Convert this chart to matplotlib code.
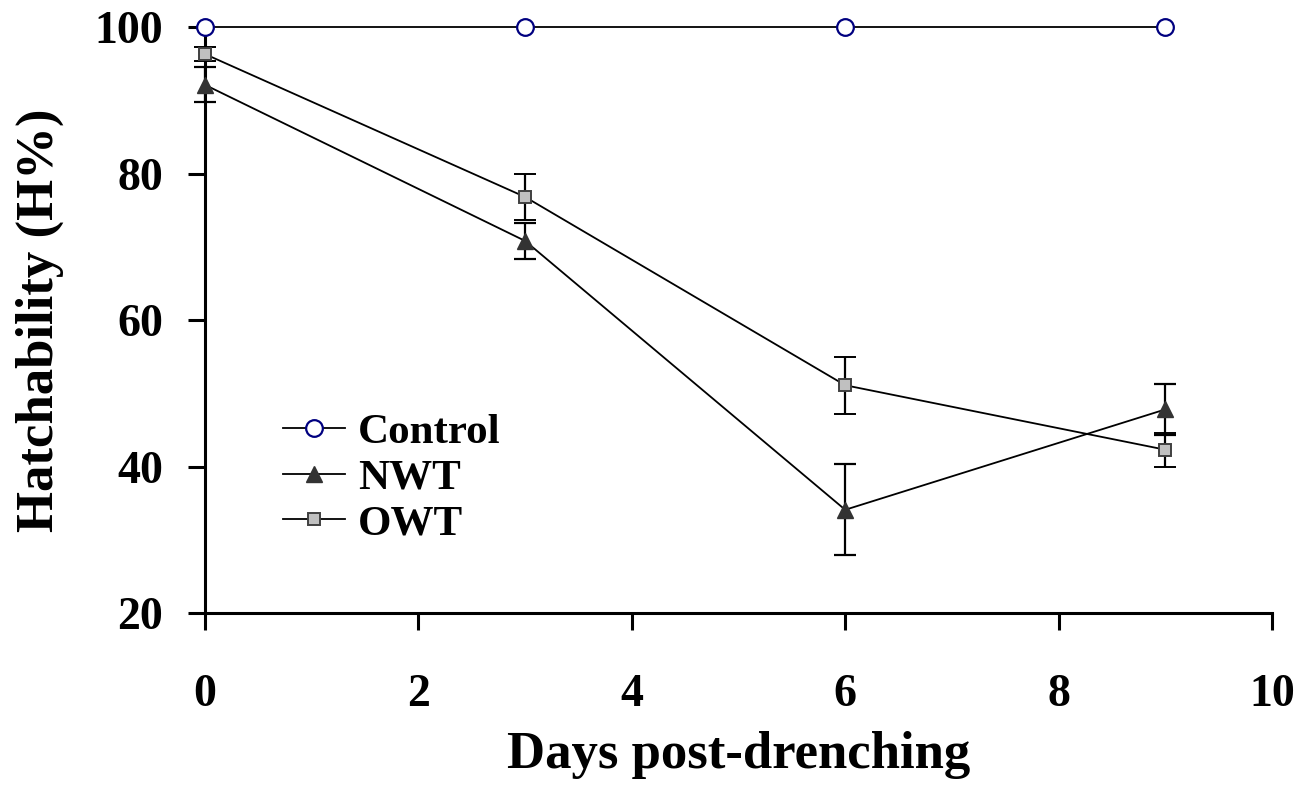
import matplotlib
matplotlib.use("Agg")
import matplotlib.pyplot as plt

# data
days = [0, 3, 6, 9]
control = [100, 100, 100, 100]
nwt = [92.1, 70.8, 34.1, 47.8]
nwt_err = [2.4, 2.5, 6.2, 3.5]
owt = [96.3, 76.8, 51.1, 42.3]
owt_err = [1.0, 3.1, 3.9, 2.3]

plt.rcParams['font.family'] = ['Liberation Serif', 'DejaVu Serif']
plt.rcParams['font.weight'] = 'bold'

fig = plt.figure(figsize=(13.01, 7.85), dpi=100)
ax = fig.add_axes([0.1576, 0.219, 0.8201, 0.7466])

ax.plot(days, control, color='black', lw=1.3, marker='o', ms=12,
        mfc='white', mec='#000080', mew=1.6, label='Control', zorder=4,
        clip_on=False)
e1 = ax.errorbar(days, nwt, yerr=nwt_err, color='black', lw=1.3, marker='^', ms=11,
                 mfc='#333333', mec='#333333', ecolor='black', elinewidth=1.6,
                 capsize=8, capthick=1.6, label='NWT', zorder=3)
e2 = ax.errorbar(days, owt, yerr=owt_err, color='black', lw=1.3, marker='s', ms=8.5,
                 mfc='#c0c0c0', mec='#404040', mew=1.4, ecolor='black', elinewidth=1.6,
                 capsize=8, capthick=1.6, label='OWT', zorder=3)
for e in (e1, e2):
    e[0].set_clip_on(False)
    for c in e[1]:
        c.set_clip_on(False)
    for b in e[2]:
        b.set_clip_on(False)

ax.set_xlim(0, 10)
ax.set_ylim(20, 100)
ax.set_xticks([0, 2, 4, 6, 8, 10])
ax.set_yticks([20, 40, 60, 80, 100])
for s in ['top', 'right']:
    ax.spines[s].set_visible(False)
for s in ['left', 'bottom']:
    ax.spines[s].set_linewidth(2.2)
ax.tick_params(direction='out', length=12, width=2.2, labelsize=33)
ax.tick_params(axis='x', pad=32)
ax.tick_params(axis='y', pad=18)

ax.set_xlabel('Days post-drenching', fontsize=38, fontweight='bold', labelpad=11)
ax.set_ylabel('Hatchability (H%)', fontsize=38, fontweight='bold', labelpad=22)

handles = [ax.lines[0], e1[0], e2[0]]
labels = ['Control', 'NWT', 'OWT']
ax.legend(handles, labels, loc='lower left', bbox_to_anchor=(0.073, 0.119),
          frameon=False, fontsize=31, handlelength=1.45, handletextpad=0.3,
          labelspacing=0.15, borderpad=0, borderaxespad=0)

fig.savefig('out.png', dpi=100)
